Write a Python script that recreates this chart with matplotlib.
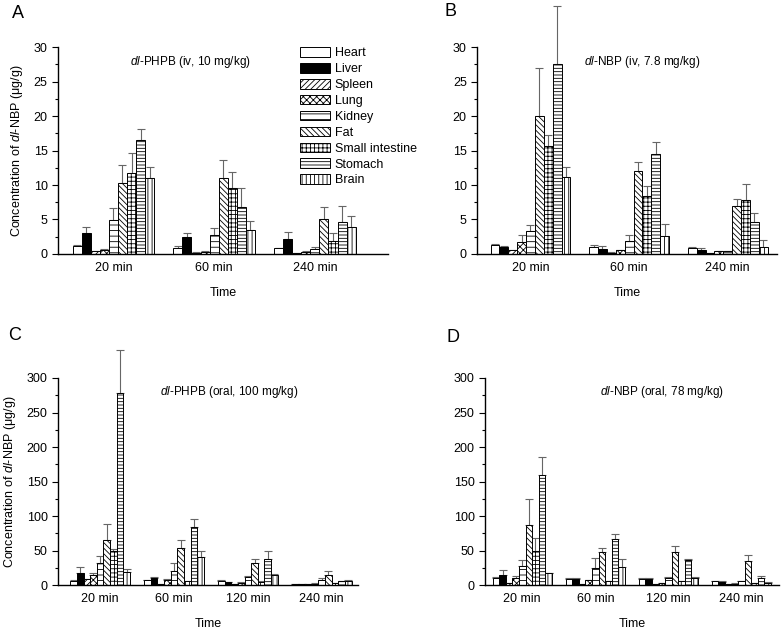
import matplotlib
matplotlib.use('Agg')
import matplotlib.pyplot as plt
import numpy as np
from matplotlib.ticker import MultipleLocator

plt.rcParams['font.family'] = ['Liberation Sans', 'DejaVu Sans']
plt.rcParams['mathtext.fontset'] = 'custom'
plt.rcParams['mathtext.rm'] = 'Liberation Sans'
plt.rcParams['mathtext.it'] = 'Liberation Sans:italic'
plt.rcParams['hatch.linewidth'] = 0.6

organs = ['Heart', 'Liver', 'Spleen', 'Lung', 'Kidney', 'Fat',
          'Small intestine', 'Stomach', 'Brain']
hatches = ['', '', '//////', 'xxxxx', '---', '\\\\\\\\\\\\', '++++', '-----', '||||']
fills = ['white', 'black', 'white', 'white', 'white', 'white', 'white', 'white', 'white']

times_iv = ['20 min', '60 min', '240 min']
times_oral = ['20 min', '60 min', '120 min', '240 min']

# rows = organs, columns = time points
a_mean = [[1.2, 0.9, 0.8], [3.0, 2.5, 2.2], [0.4, 0.2, 0.15], [0.6, 0.3, 0.25],
          [4.9, 2.8, 0.7], [10.3, 11.0, 5.1], [11.8, 9.5, 1.8], [16.5, 6.8, 4.6],
          [11.0, 3.4, 3.9]]
a_err = [[0.15, 0.2, 0.1], [0.9, 0.6, 1.0], [0.05, 0.05, 0.05], [0.1, 0.05, 0.1],
         [1.8, 1.0, 0.3], [2.6, 2.6, 1.7], [2.9, 2.4, 1.2], [1.6, 2.7, 2.4],
         [1.6, 1.4, 1.6]]

b_mean = [[1.3, 1.0, 0.9], [1.0, 0.75, 0.55], [0.5, 0.2, 0.1], [1.7, 0.5, 0.35],
          [3.3, 1.85, 0.35], [20.0, 12.1, 7.0], [15.7, 8.45, 7.8], [27.6, 14.5, 4.6],
          [11.2, 2.65, 1.0]]
b_err = [[0.15, 0.25, 0.05], [0.2, 0.35, 0.3], [0.05, 0.05, 0.05], [1.0, 0.1, 0.05],
         [0.95, 0.9, 0.05], [7.0, 1.2, 0.9], [1.6, 1.35, 2.3], [8.4, 1.7, 1.4],
         [1.4, 1.75, 0.95]]

c_mean = [[6, 7, 5.8, 1.5], [18, 9.7, 3.9, 1.5], [8, 1, 1, 1], [15, 7, 3.5, 2],
          [32, 21, 12, 7], [65.7, 53.6, 31.4, 14.5], [50, 6, 5, 2.5],
          [278, 83.6, 38, 5.5], [19, 40.6, 15, 6.5]]
c_err = [[1, 0.5, 1.9, 0.3], [7.6, 1.3, 0.5, 0.3], [1, 0.3, 0.3, 0.3], [3, 1, 0.5, 0.5],
         [9.5, 11, 1, 3], [23, 11.4, 5.6, 6.5], [2, 0.5, 0.5, 0.5],
         [62, 11.4, 12, 1], [4, 9.4, 1, 0.5]]

d_mean = [[9.7, 8.2, 8, 5.3], [14.5, 8.7, 8.5, 4.8], [2.4, 1, 1, 1], [10, 7, 2.5, 2],
          [28, 24.6, 9.7, 6], [86.7, 48, 47.3, 34.3], [49, 6, 6, 3],
          [160, 66, 36.7, 9.7], [17.5, 26, 10.5, 3.5]]
d_err = [[2.3, 1.8, 2, 0.5], [7.3, 1.3, 1.5, 1.2], [0.3, 0.3, 0.3, 0.3], [3, 0.5, 0.5, 0.3],
         [8, 14.4, 1.3, 0.5], [38.3, 5.6, 8.7, 8.7], [19, 0.5, 0.5, 0.5],
         [26, 8, 0.8, 3.8], [0.5, 11, 0.5, 0.5]]

ylab = 'Concentration of $\\it{dl}$-NBP (\u03bcg/g)'


def draw_panel(ax, means, errs, times, ymax, major, minor, xlim, title, title_x, show_ylabel):
    pos = np.arange(1, len(times) + 1)
    w = 0.09
    bars = []
    for i in range(len(organs)):
        x = pos + (i - 4) * w
        m = np.array(means[i], dtype=float)
        e = np.array(errs[i], dtype=float)
        eb = ax.errorbar(x, m, yerr=[np.zeros_like(e), e], fmt='none', ecolor='#666666',
                         elinewidth=0.8, capsize=3, capthick=0.8, zorder=1)
        for art in eb.lines[1] + eb.lines[2]:
            art.set_clip_on(False)
        b = ax.bar(x, m, width=w, color=fills[i], edgecolor='black', linewidth=0.7,
                   hatch=hatches[i], label=organs[i], zorder=2)
        bars.append(b)
    ax.set_xlim(*xlim)
    ax.set_ylim(0, ymax)
    ax.set_xticks(pos)
    ax.set_xticklabels(times, fontsize=9)
    ax.yaxis.set_major_locator(MultipleLocator(major))
    ax.yaxis.set_minor_locator(MultipleLocator(minor))
    ax.tick_params(axis='x', length=0, pad=6)
    ax.tick_params(axis='y', which='major', length=4, width=0.8, labelsize=9)
    ax.tick_params(axis='y', which='minor', length=2, width=0.8)
    for s in ['top', 'right']:
        ax.spines[s].set_visible(False)
    for s in ['left', 'bottom']:
        ax.spines[s].set_linewidth(1.0)
    ax.set_xlabel('Time', fontsize=9, labelpad=9)
    if show_ylabel:
        ax.set_ylabel(ylab, fontsize=9, labelpad=6)
    ax.text(title_x, 0.93, title, transform=ax.transAxes, ha='center', va='center', fontsize=8.5)
    return bars


fig = plt.figure(figsize=(7.81, 6.30), dpi=100)
ax_a = fig.add_axes([0.0743, 0.597, 0.423, 0.328])
ax_b = fig.add_axes([0.611, 0.597, 0.384, 0.328])
ax_c = fig.add_axes([0.0743, 0.0714, 0.384, 0.3286])
ax_d = fig.add_axes([0.621, 0.0714, 0.377, 0.3286])

bars = draw_panel(ax_a, a_mean, a_err, times_iv, 30, 5, 2.5, (0.45, 3.73),
                  '$\\it{dl}$-PHPB (iv, 10 mg/kg)', 0.40, True)
draw_panel(ax_b, b_mean, b_err, times_iv, 30, 5, 2.5, (0.46, 3.5),
           '$\\it{dl}$-NBP (iv, 7.8 mg/kg)', 0.55, False)
draw_panel(ax_c, c_mean, c_err, times_oral, 300, 50, 25, (0.43, 4.49),
           '$\\it{dl}$-PHPB (oral, 100 mg/kg)', 0.57, True)
draw_panel(ax_d, d_mean, d_err, times_oral, 300, 50, 25, (0.49, 4.52),
           '$\\it{dl}$-NBP (oral, 78 mg/kg)', 0.60, False)

fig.legend(handles=bars, labels=organs, loc='upper left', bbox_to_anchor=(0.384, 0.925),
           frameon=False, fontsize=9, handlelength=2.4, handleheight=0.8,
           handletextpad=0.4, labelspacing=0.3, borderpad=0, borderaxespad=0)

fig.text(12 / 781, 1 - 14 / 630, 'A', fontsize=13, ha='left', va='center')
fig.text(444 / 781, 1 - 12 / 630, 'B', fontsize=13, ha='left', va='center')
fig.text(8 / 781, 1 - 335 / 630, 'C', fontsize=13, ha='left', va='center')
fig.text(447 / 781, 1 - 337 / 630, 'D', fontsize=13, ha='left', va='center')

fig.savefig('out.png', dpi=100)
